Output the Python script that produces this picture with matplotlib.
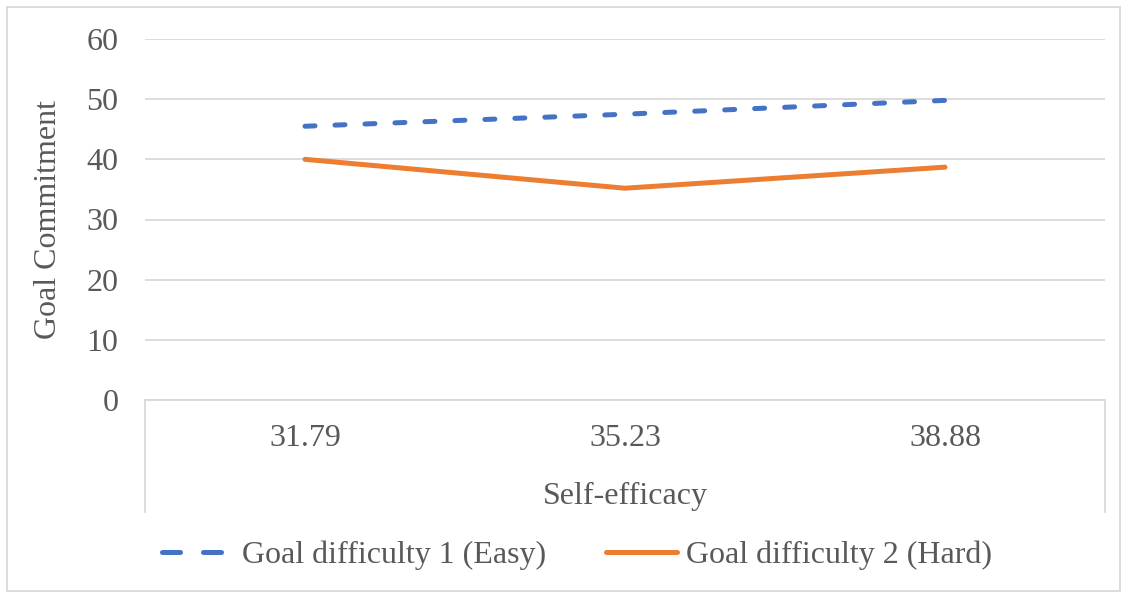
import matplotlib.pyplot as plt
from matplotlib.lines import Line2D
from matplotlib.patches import Rectangle

# Chart data
categories = ['31.79', '35.23', '38.88']
easy_values = [45.5, 47.5, 49.8]
hard_values = [40.0, 35.2, 38.7]
y_ticks = [0, 10, 20, 30, 40, 50, 60]

BLUE = '#4472C4'
ORANGE = '#ED7D31'
TEXT = '#595959'
GRID = '#D9D9D9'

plt.rcParams['font.family'] = ['Liberation Serif', 'DejaVu Serif']

W, H = 1126, 592
fig = plt.figure(figsize=(W / 100, H / 100), dpi=100)
ax = fig.add_axes([145 / W, (H - 400) / H, 960 / W, 361 / H])

x = list(range(len(categories)))
ax.plot(x, easy_values, color=BLUE, lw=3.6, dashes=(2, 4),
        dash_capstyle='round', solid_capstyle='round',
        label='Goal difficulty 1 (Easy)')
ax.plot(x, hard_values, color=ORANGE, lw=3.6, solid_capstyle='round',
        label='Goal difficulty 2 (Hard)')

ax.set_xlim(-0.5, len(categories) - 0.5)
ax.set_ylim(0, 60)
ax.set_yticks(y_ticks)
ax.set_xticks(x)
ax.set_xticklabels(categories)
ax.yaxis.grid(True, color=GRID, lw=1.3)
ax.set_axisbelow(True)
ax.tick_params(axis='both', length=0, labelsize=23, colors=TEXT)
ax.tick_params(axis='x', pad=17)
ax.tick_params(axis='y', pad=19)

for s in ['top', 'right', 'left']:
    ax.spines[s].set_visible(False)
ax.spines['bottom'].set_color(GRID)
ax.spines['bottom'].set_linewidth(1.3)

# category axis box sides
depth = (512 - 400) / 361
for xa in (0, 1):
    ax.add_line(Line2D([xa, xa], [0, -depth], transform=ax.transAxes,
                       color=GRID, lw=1.3, clip_on=False))

ax.set_xlabel('Self-efficacy', fontsize=23, color=TEXT, labelpad=21)
ax.set_ylabel('Goal Commitment', fontsize=23, color=TEXT, labelpad=17)

leg = ax.legend(loc='center', bbox_to_anchor=(577 / W, (H - 555) / H),
                bbox_transform=fig.transFigure, ncol=2, frameon=False,
                fontsize=23, labelcolor=TEXT, handlelength=2.2,
                handletextpad=0.3, columnspacing=1.9)
leg.get_lines()[0].set_dashes((3.6, 4.6))

fig.patches.append(Rectangle((7 / W, 1 / H), 1113 / W, (H - 8) / H,
                             transform=fig.transFigure, fill=False,
                             edgecolor=GRID, lw=1.3))

fig.savefig('out.png', dpi=100)
